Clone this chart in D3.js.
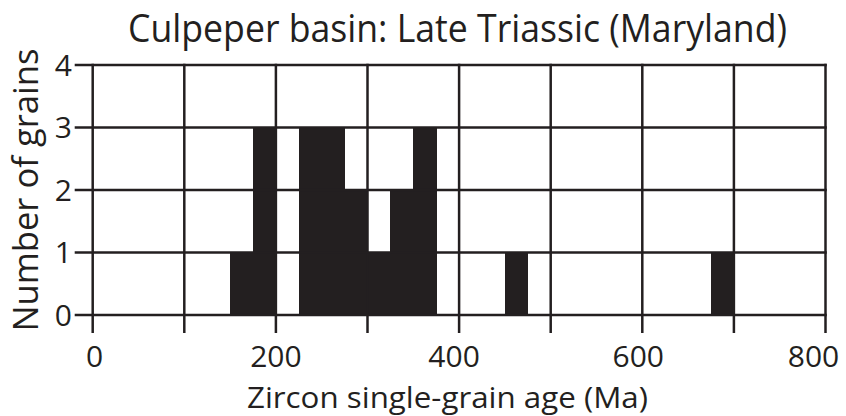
<!DOCTYPE html>
<html>
<head>
    <script src="https://d3js.org/d3.v7.min.js"></script>
    <style>
        body { margin: 0; background: #fff; }
        text { font-family: "Open Sans", sans-serif; fill: #231f20; }
    </style>
</head>
<body>
<div id="chart"></div>
<script>
// histogram bins (Ma), 25 Ma wide
const binStart = [150, 175, 225, 250, 275, 300, 325, 350, 450, 675];
const counts   = [1,   3,   3,   3,   2,   1,   2,   3,   1,   1];
const binWidth = 25;
const xTicks = [0, 100, 200, 300, 400, 500, 600, 700, 800];
const xLabels = [0, 200, 400, 600, 800];
const yTicks = [0, 1, 2, 3, 4];

const ink = "#231f20";
const W = 846, H = 416;

const svg = d3.select("#chart").append("svg")
    .attr("width", W)
    .attr("height", H);

const x = d3.scaleLinear().domain([0, 800]).range([92.7, 825.5]);
const y = d3.scaleLinear().domain([0, 4]).range([315, 65]);

const bins = binStart.map((s, i) => ({x0: s, x1: s + binWidth, n: counts[i]}));

// bars
svg.append("g").selectAll("rect")
    .data(bins)
    .enter()
    .append("rect")
    .attr("x", d => x(d.x0))
    .attr("width", d => x(d.x1) - x(d.x0) + 0.5)
    .attr("y", d => y(d.n))
    .attr("height", d => y(0) - y(d.n))
    .attr("fill", ink)
    .attr("shape-rendering", "crispEdges");

// grid
svg.append("g").selectAll("line")
    .data(xTicks)
    .enter()
    .append("line")
    .attr("x1", d => x(d)).attr("x2", d => x(d))
    .attr("y1", y(4) - 1.25).attr("y2", y(0) + 18)
    .attr("stroke", ink).attr("stroke-width", 2.5);

svg.append("g").selectAll("line")
    .data(yTicks)
    .enter()
    .append("line")
    .attr("x1", x(0) - 18).attr("x2", x(800) + 1.25)
    .attr("y1", d => y(d)).attr("y2", d => y(d))
    .attr("stroke", ink).attr("stroke-width", 2.5);

// tick labels (the original sets them slightly off-centre)
const labelNudge = [2, 0, -5, -4, -12];
svg.append("g").selectAll("text")
    .data(xLabels)
    .enter()
    .append("text")
    .attr("x", (d, i) => x(d) + labelNudge[i])
    .attr("y", 367)
    .attr("text-anchor", "middle")
    .style("font-size", "30px")
    .text(d => d);

svg.append("g").selectAll("text")
    .data(yTicks)
    .enter()
    .append("text")
    .attr("x", 72)
    .attr("y", d => y(d))
    .attr("dy", "0.36em")
    .attr("text-anchor", "end")
    .style("font-size", "30px")
    .text(d => d);

// titles
svg.append("text")
    .attr("x", 457.5).attr("y", 42)
    .attr("text-anchor", "middle")
    .attr("textLength", 659).attr("lengthAdjust", "spacingAndGlyphs")
    .style("font-size", "38px")
    .text("Culpeper basin: Late Triassic (Maryland)");

svg.append("text")
    .attr("x", 447.5).attr("y", 408)
    .attr("text-anchor", "middle")
    .attr("textLength", 401).attr("lengthAdjust", "spacingAndGlyphs")
    .style("font-size", "30px")
    .text("Zircon single-grain age (Ma)");

svg.append("text")
    .attr("transform", "translate(38,190) rotate(-90)")
    .attr("text-anchor", "middle")
    .attr("textLength", 283).attr("lengthAdjust", "spacingAndGlyphs")
    .style("font-size", "34px")
    .text("Number of grains");
</script>
</body>
</html>
